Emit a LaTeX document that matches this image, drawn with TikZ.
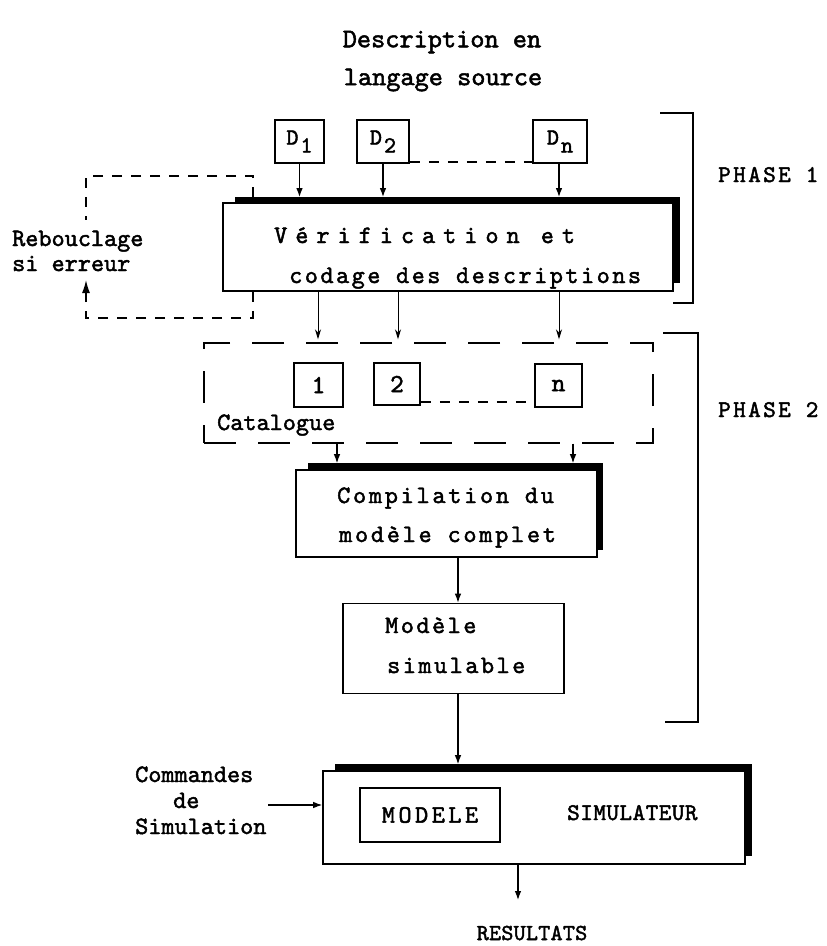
\documentclass[tikz,border=0pt]{standalone}
\usepackage{fontspec}
\usetikzlibrary{arrows.meta}
\newfontfamily\tw{lmmono10-regular.otf}[FakeBold=1.8]
\newcommand\twt[3]{{\tw\fontsize{#1}{#1}\selectfont\addfontfeatures{LetterSpace=#2}#3}}
\tikzset{
 box/.style={draw=black, line width=1.6pt, fill=white, inner sep=0pt},
 txt/.style={inner sep=0pt, anchor=base west},
 ctxt/.style={inner sep=0pt},
 arr/.style={line width=1.1pt, -{Latex[length=9pt,width=6.5pt]}},
 sarr/.style={line width=1pt, -{Stealth[length=10pt,width=6pt]}},
 dsh/.style={line width=1.4pt, dash pattern=on 10pt off 9pt},
 ldsh/.style={line width=1.4pt, dash pattern=on 32pt off 22pt},
 brk/.style={line width=1.5pt},
}
\begin{document}
\begin{tikzpicture}[x=1pt,y=-1pt]
\useasboundingbox[fill=white] (0,0) rectangle (827,946);
% title
\node[ctxt] (t1) at (442,42) {\twt{27}{0}{Description en}};
\node[ctxt] (t2) at (443,80) {\twt{27}{0}{langage source}};
% D boxes
\node[box, minimum width=49pt, minimum height=43pt] (D1) at (299.5,141.5) {};
\node[box, minimum width=52pt, minimum height=43pt] (D2) at (383,141.5) {};
\node[box, minimum width=54pt, minimum height=43pt] (Dn) at (560,141.5) {};
\node[ctxt] (d1t) at (D1) {\twt{23}{0}{D\kern2pt\raisebox{-8pt}{1}}};
\node[ctxt] (d2t) at (D2) {\twt{23}{0}{D\kern2pt\raisebox{-8pt}{2}}};
\node[ctxt] (dnt) at (Dn) {\twt{23}{0}{D\kern2pt\raisebox{-8pt}{n}}};
% verification box
\fill (235,197) rectangle (680,283);
\node[box, minimum width=450pt, minimum height=88pt] (V) at (448,247) {};
\node[txt] (vt1) at (274,243) {\twt{25}{32}{Vérification et}};
\node[txt] (vt2) at (289,283) {\twt{25}{10}{codage des descriptions}};
% loop
\node[txt] (rb1) at (12,246) {\twt{25}{0}{Rebouclage}};
\node[txt] (rb2) at (12,271) {\twt{25}{0}{si erreur}};
\coordinate (rs) at (253,197);
\coordinate (rt) at (253,176);
\coordinate (lt) at (86,176);
\coordinate (le) at (86,220);
\coordinate (rb) at (253,318);
\coordinate (lb) at (86,318);
\coordinate (la) at (86,280);
% catalogue
\node[box, fill=none, ldsh, minimum width=449pt, minimum height=100pt] (Cat) at (428.5,393) {};
\node[box, minimum width=49pt, minimum height=44pt] (b1) at (318.5,385) {\twt{26}{0}{1}};
\node[box, minimum width=46pt, minimum height=42pt] (b2) at (397,384) {\twt{26}{0}{2}};
\node[box, minimum width=47pt, minimum height=43pt] (bn) at (558.5,385.5) {\twt{26}{0}{n}};
\node[txt] (cat) at (217,430) {\twt{25}{0}{Catalogue}};
% compilation
\fill (308,463) rectangle (603,550);
\node[box, minimum width=301pt, minimum height=87pt] (C) at (446.5,513.5) {};
\node[txt] (ct1) at (337,503) {\twt{25}{11}{Compilation du}};
\node[txt] (ct2) at (339,542) {\twt{25}{11}{modèle complet}};
% modele simulable
\node[box, minimum width=221pt, minimum height=90pt] (M) at (453.5,648.5) {};
\node[txt] (mt1) at (385,633) {\twt{25}{10}{Modèle}};
\node[txt] (mt2) at (387,673) {\twt{25}{10}{simulable}};
% simulateur
\fill (335,764) rectangle (752,856);
\node[box, minimum width=422pt, minimum height=93pt] (S) at (534,817.5) {};
\node[box, line width=1.4pt, minimum width=140pt, minimum height=54pt] (Mi) at (430,815) {\twt{25}{14}{MODELE}};
\node[txt] (st) at (567,820) {\twt{24}{2}{SIMULATEUR}};
\node[txt] (cm1) at (135,782) {\twt{25}{0}{Commandes}};
\node[txt] (cm2) at (173,808) {\twt{25}{0}{de}};
\node[txt] (cm3) at (135,834) {\twt{25}{0}{Simulation}};
\node[ctxt] (res) at (532,933) {\twt{23}{1}{RESULTATS}};
% phases
\draw[brk] (660,113) -- (693,113) -- (693,303) -- (673,303);
\draw[brk] (663,333) -- (698,333) -- (698,722) -- (665,722);
\node[txt] (p1) at (718,182) {\twt{24}{10}{PHASE 1}};
\node[txt] (p2) at (718,417) {\twt{24}{10}{PHASE 2}};
% connectors
\coordinate (s1) at (318,0);
\coordinate (s2) at (398,0);
\coordinate (s3) at (559,0);
\coordinate (s4) at (337,0);
\coordinate (s5) at (573,0);
\coordinate (s6) at (458,0);
\coordinate (ci) at (268,805);
\coordinate (co) at (518,900);
\draw[arr, line width=1.4pt, shorten >=5pt] (D1.south) -- (D1.south |- V.north);
\draw[arr, line width=1.4pt, shorten >=5pt] (D2.south) -- (D2.south |- V.north);
\draw[arr, line width=1.4pt, shorten >=5pt] (Dn.south -| s3) -- (s3 |- V.north);
\draw[dsh] ([yshift=2pt]D2.south east) -- ([yshift=2pt]D2.south east -| Dn.west);
\draw[dsh] (rs) -- (rt) -- (lt) -- (le);
\draw[dsh, -{Latex[length=13pt,width=8pt]}] (rb |- V.south) -- (rb) -- (lb) -- (la);
\draw[sarr, shorten >=3pt] (V.south -| s1) -- (Cat.north -| s1);
\draw[sarr, shorten >=3pt] (V.south -| s2) -- (Cat.north -| s2);
\draw[sarr, shorten >=3pt] (V.south -| s3) -- (Cat.north -| s3);
\draw[dsh] ([yshift=4pt]b2.south east) -- ([yshift=4pt]b2.south east -| bn.west);
\draw[arr, shorten >=6pt] (Cat.south -| s4) -- (C.north -| s4);
\draw[arr, shorten >=6pt] (Cat.south -| s5) -- (C.north -| s5);
\draw[arr] (C.south -| s6) -- (M.north -| s6);
\draw[arr, shorten >=6pt] (M.south -| s6) -- (S.north -| s6);
\draw[arr] (ci) -- (ci -| S.west);
\draw[arr] (co |- S.south) -- (co);
\end{tikzpicture}
\end{document}
